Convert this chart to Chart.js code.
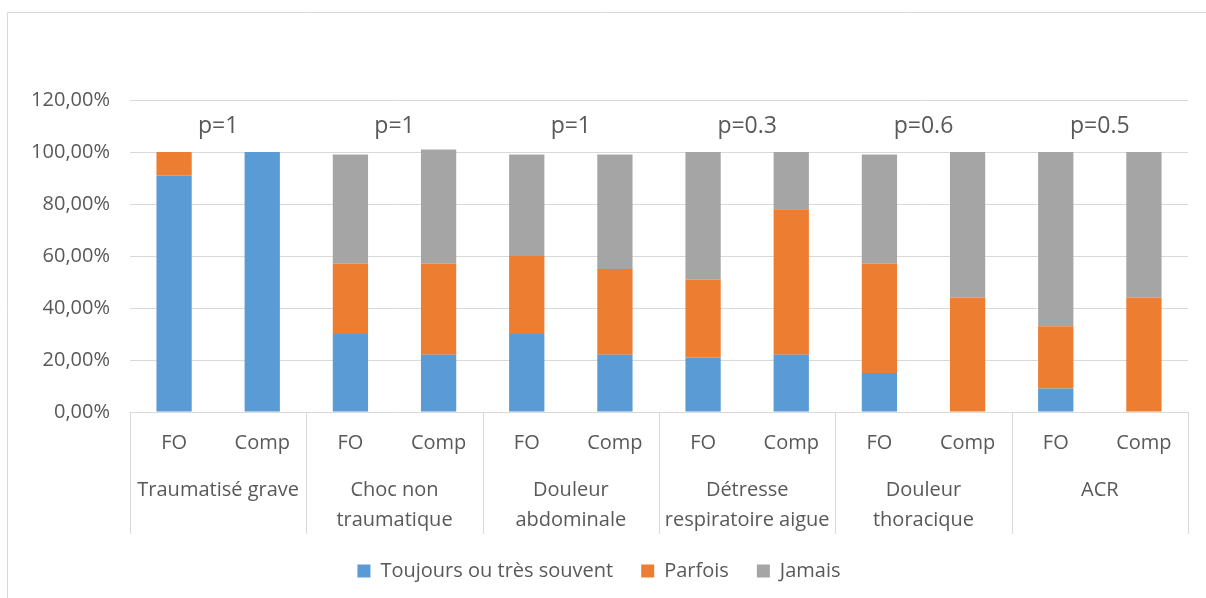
<!DOCTYPE html>
<html>
<head>
<meta charset="utf-8">
<script src="https://cdn.jsdelivr.net/npm/chart.js@4.4.1/dist/chart.umd.min.js"></script>
<style>
    body { margin: 0; background: #ffffff; }
    #wrap { width: 1206px; height: 598px; }
</style>
</head>
<body>
<div id="wrap"><canvas id="chart" width="1206" height="598"></canvas></div>
<script>
// Data (percentages)
const barLabels = ["FO", "Comp", "FO", "Comp", "FO", "Comp", "FO", "Comp", "FO", "Comp", "FO", "Comp"];
const groupLabels = [
    ["Traumatisé grave"],
    ["Choc non", "traumatique"],
    ["Douleur", "abdominale"],
    ["Détresse", "respiratoire aigue"],
    ["Douleur", "thoracique"],
    ["ACR"],
];
const pValues = ["p=1", "p=1", "p=1", "p=0.3", "p=0.6", "p=0.5"];
const toujours = [91, 100, 30, 22, 30, 22, 21, 22, 15, 0, 9, 0];
const parfois = [9, 0, 27, 35, 30, 33, 30, 56, 42, 44, 24, 44];
const jamais = [0, 0, 42, 44, 39, 44, 49, 22, 42, 56, 67, 56];
const yTicks = [0, 20, 40, 60, 80, 100, 120];

const FONT = "'Open Sans', Lato, sans-serif";
const TEXT = "#595959";
const LINE = "#d9d9d9";

// Draws frame, group separators, group names and p-values
const groupAxisPlugin = {
    id: "groupAxis",
    afterDraw(chart) {
        const ctx = chart.ctx;
        const x = chart.scales.x;
        const y = chart.scales.y;
        const area = chart.chartArea;
        ctx.save();

        // outer frame (top and left only visible)
        ctx.strokeStyle = LINE;
        ctx.lineWidth = 1;
        ctx.beginPath();
        ctx.moveTo(7.5, 598);
        ctx.lineTo(7.5, 12.5);
        ctx.lineTo(1206, 12.5);
        ctx.stroke();

        // separators between groups
        const bounds = [];
        for (let j = 0; j <= barLabels.length; j += 2) {
            let px;
            if (j === 0) px = area.left;
            else if (j === barLabels.length) px = area.right;
            else px = (x.getPixelForValue(j - 1) + x.getPixelForValue(j)) / 2;
            bounds.push(Math.round(px) + 0.5);
        }
        ctx.beginPath();
        bounds.forEach((px) => {
            ctx.moveTo(px, area.bottom);
            ctx.lineTo(px, 534);
        });
        ctx.stroke();

        // group names and p-values
        ctx.fillStyle = TEXT;
        ctx.textAlign = "center";
        ctx.textBaseline = "middle";
        groupLabels.forEach((lines, g) => {
            const cx = (x.getPixelForValue(g * 2) + x.getPixelForValue(g * 2 + 1)) / 2;
            ctx.font = "20px " + FONT;
            lines.forEach((line, k) => {
                ctx.fillText(line, cx, 490 + k * 30);
            });
            ctx.font = "23px " + FONT;
            ctx.fillText(pValues[g], cx, y.getPixelForValue(110));
        });
        ctx.restore();
    },
};

const ctx = document.getElementById("chart").getContext("2d");
new Chart(ctx, {
    type: "bar",
    data: {
        labels: barLabels,
        datasets: [
            {
                label: "Toujours ou très souvent",
                data: toujours,
                backgroundColor: "#5B9BD5",
            },
            {
                label: "Parfois",
                data: parfois,
                backgroundColor: "#ED7D31",
            },
            {
                label: "Jamais",
                data: jamais,
                backgroundColor: "#A5A5A5",
            },
        ],
    },
    options: {
        responsive: false,
        animation: false,
        devicePixelRatio: 1,
        barPercentage: 0.4,
        categoryPercentage: 1,
        layout: {
            padding: { left: 10, right: 18, top: 100, bottom: 7 },
        },
        plugins: {
            legend: {
                position: "bottom",
                labels: {
                    boxWidth: 13,
                    boxHeight: 13,
                    padding: 28,
                    color: TEXT,
                    font: { family: FONT, size: 20 },
                },
            },
            tooltip: { enabled: false },
        },
        scales: {
            x: {
                stacked: true,
                grid: { display: false, drawTicks: false },
                border: { display: true, color: LINE },
                ticks: {
                    color: TEXT,
                    padding: 19,
                    font: { family: FONT, size: 20 },
                },
                afterFit: function (scale) {
                    scale.height = 121;
                },
            },
            y: {
                stacked: true,
                min: 0,
                max: 120,
                afterBuildTicks: function (scale) {
                    scale.ticks = yTicks.map((v) => ({ value: v }));
                },
                grid: { color: LINE, drawTicks: false },
                border: { display: false },
                ticks: {
                    color: TEXT,
                    padding: 20,
                    font: { family: FONT, size: 20 },
                    callback: function (value) {
                        return value.toFixed(2).replace(".", ",") + "%";
                    },
                },
                afterFit: function (scale) {
                    scale.width = 120;
                },
            },
        },
    },
    plugins: [groupAxisPlugin],
});
</script>
</body>
</html>
